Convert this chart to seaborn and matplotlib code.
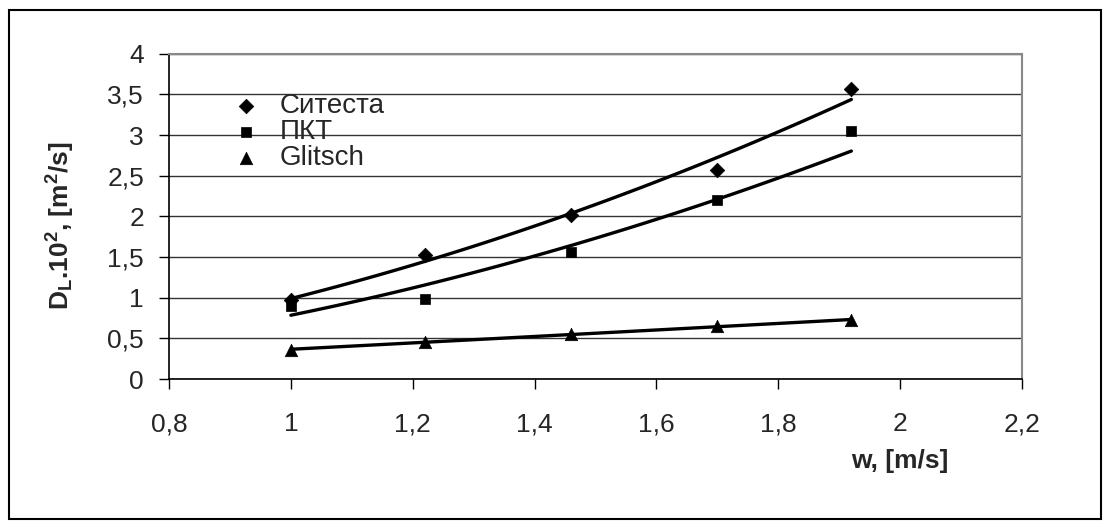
import numpy as np
import matplotlib
matplotlib.use('Agg')
import matplotlib.pyplot as plt
from matplotlib.patches import Rectangle
import seaborn as sns

w = [1.0, 1.22, 1.46, 1.70, 1.92]
sitesta = [0.97, 1.52, 2.02, 2.57, 3.57]
pkt = [0.90, 0.98, 1.56, 2.20, 3.05]
glitsch = [0.36, 0.46, 0.55, 0.65, 0.72]

series_names = ['Ситеста', 'ПКТ', 'Glitsch']
series_vals = [sitesta, pkt, glitsch]
markers = ['D', 's', '^']
marker_sizes = [55, 60, 80]

x_ticks = [0.8, 1.0, 1.2, 1.4, 1.6, 1.8, 2.0, 2.2]
y_ticks = [0, 0.5, 1, 1.5, 2, 2.5, 3, 3.5, 4]


def comma(v):
    s = ('%g' % v)
    return s.replace('.', ',')


sns.set_style('white')
plt.rcParams['font.family'] = ['Liberation Sans', 'DejaVu Sans']
plt.rcParams['mathtext.default'] = 'regular'

fig = plt.figure(figsize=(11.09, 5.27), dpi=100)
ax = fig.add_axes([0.1524, 0.2808, 0.7691, 0.6172])

for name, vals, m, s in zip(series_names, series_vals, markers, marker_sizes):
    sns.scatterplot(x=w, y=vals, marker=m, s=s, color='black',
                    edgecolor='black', linewidth=0.5, label=name, ax=ax, zorder=4)
    # power trendline (Excel style)
    b, a = np.polyfit(np.log(w), np.log(vals), 1)
    xs = np.linspace(w[0], w[-1], 60)
    sns.lineplot(x=xs, y=np.exp(a) * xs ** b, color='black', lw=2.4,
                 legend=False, ax=ax, zorder=3)

ax.set_xlim(0.8, 2.2)
ax.set_ylim(0, 4)
ax.set_xticks(x_ticks)
ax.set_yticks(y_ticks)
ax.set_xticklabels([comma(v) for v in x_ticks], fontsize=19)
ax.set_yticklabels([comma(v) for v in y_ticks], fontsize=19)
ax.tick_params(axis='x', direction='out', length=7, width=1, pad=17, color='black', bottom=True)
ax.tick_params(axis='y', direction='out', length=7, width=1, pad=11, color='black', left=True)

ax.yaxis.grid(True, color='#333333', lw=1)
ax.xaxis.grid(False)
ax.set_axisbelow(True)

for side in ['left', 'bottom']:
    ax.spines[side].set_color('black')
    ax.spines[side].set_linewidth(1.2)
for side in ['top', 'right']:
    ax.spines[side].set_color('#888888')
    ax.spines[side].set_linewidth(1.5)

ax.set_xlabel('w, [m/s]', fontsize=19, fontweight='bold')
ax.xaxis.set_label_coords(0.857, -0.215)
ax.set_ylabel('D$_{L}$.10$^{2}$, [m$^{2}$/s]', fontsize=19, fontweight='bold')
ax.yaxis.set_label_coords(-0.108, 0.47)

leg = ax.legend(loc='upper left', bbox_to_anchor=(0.058, 0.912), frameon=False,
                fontsize=20, handletextpad=0.6, labelspacing=0.0,
                borderaxespad=0, handlelength=1.2)

fig.patches.append(Rectangle((0.0081, 0.0152), 0.9847, 0.9658, transform=fig.transFigure,
                             fill=False, ec='black', lw=1.5))

fig.savefig('out.png', dpi=100)
